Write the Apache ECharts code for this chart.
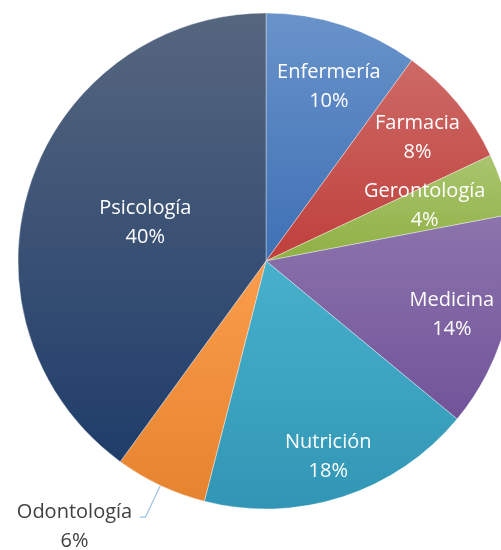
<!DOCTYPE html>
<html><head><meta charset="utf-8">
<script src="https://cdn.jsdelivr.net/npm/echarts@6/dist/echarts.min.js"></script>
<style>html,body{margin:0;padding:0;background:#fff}#c{width:501px;height:550px}</style>
</head><body><div id="c"></div>
<script>
const categories = ['Enfermería','Farmacia','Gerontología','Medicina','Nutrición','Odontología','Psicología'];
const values = [10, 8, 4, 14, 18, 6, 40];
const colorsTop = ['#6993CA','#CD6A66','#A9C56F','#8C74AC','#47B0CB','#FA9D4C','#56667F'];
const colorsBottom = ['#3E70B5','#BF3F3B','#8FB043','#72539A','#3196B5','#E6832F','#1F3D6A'];
// placement of inside labels: fraction of radius, and angular nudge in degrees (Excel best-fit look)
const labelRadial = [0.745, 0.787, 0.677, 0.78, 0.83, null, 0.51];
const labelNudge = [1.9, 0.5, -1.1, 1.7, 0.4, 0, -0.6];

const CX = 266, CY = 261, R = 248;
const total = values.reduce((a,b)=>a+b,0);
const cum = []; let acc = 0;
values.forEach(v => { cum.push(acc + v/2); acc += v; });
const pct = v => Math.round(v/total*100) + '%';

const chart = echarts.init(document.getElementById('c'));
const data = categories.map((name,i)=>{
  const item = {
    name, value: values[i],
    itemStyle: { color: new echarts.graphic.LinearGradient(0,0,0,1,[{offset:0,color:colorsTop[i]},{offset:1,color:colorsBottom[i]}]) }
  };
  if (labelRadial[i] === null) {
    item.label = {
      position:'outside', distanceToLabelLine:5,
      formatter: p => '{s| }\n{t|' + p.name + '}\n{t|' + pct(p.value) + '}',
      rich:{
        s:{ fontSize:10, lineHeight:19, width:120 },
        t:{ fontFamily:'Open Sans', fontSize:20, lineHeight:29, color:'#404040', width:120, align:'center' }
      }
    };
    item.labelLine = { show:true, length: 35, length2: 6, lineStyle:{ color:'#9DC3E6', width:1.2 } };
  }
  return item;
});

chart.setOption({
  animation:false,
  series:[{
    type:'pie',
    center:[CX, CY],
    radius:R,
    startAngle:90,
    clockwise:true,
    data,
    avoidLabelOverlap:false,
    itemStyle:{ borderColor:'rgba(255,255,255,0.6)', borderWidth:0.6 },
    label:{
      show:true, position:'inside', color:'#fff',
      fontFamily:'Open Sans', fontSize:20, lineHeight:29,
      align:'center', verticalAlign:'middle',
      formatter: p => p.name + '\n' + pct(p.value)
    },
    labelLine:{ show:false },
    labelLayout: function(params){
      const i = params.dataIndex;
      if (labelRadial[i] === null) return {};
      const a = (cum[i]/total*360 + labelNudge[i]) * Math.PI/180;
      const r = labelRadial[i]*R;
      return { x: CX + r*Math.sin(a), y: CY - r*Math.cos(a), align:'center', verticalAlign:'middle' };
    }
  }]
});
</script></body></html>
